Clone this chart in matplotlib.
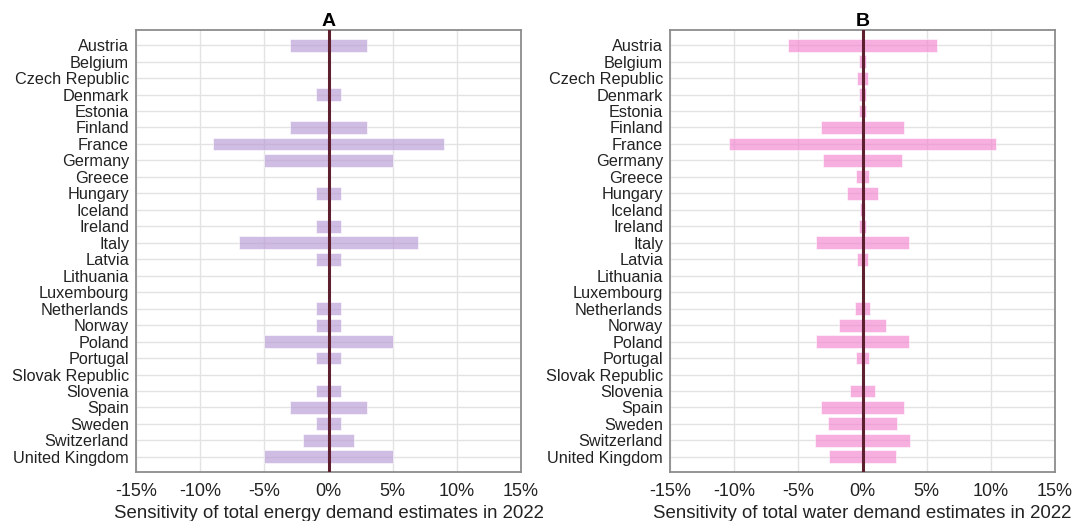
import matplotlib
matplotlib.use("Agg")
import matplotlib.pyplot as plt
import numpy as np

countries = ["Austria", "Belgium", "Czech Republic", "Denmark", "Estonia", "Finland",
             "France", "Germany", "Greece", "Hungary", "Iceland", "Ireland", "Italy",
             "Latvia", "Lithuania", "Luxembourg", "Netherlands", "Norway", "Poland",
             "Portugal", "Slovak Republic", "Slovenia", "Spain", "Sweden",
             "Switzerland", "United Kingdom"]

# sensitivity ranges (+/- percent) per country
energy_sens = [3, 0, 0, 1, 0, 3, 9, 5, 0, 1, 0, 1, 7, 1, 0, 0, 1, 1, 5, 1, 0, 1, 3, 1, 2, 5]
water_sens = [5.8, 0.28, 0.4, 0.28, 0.28, 3.2, 10.4, 3.1, 0.5, 1.2, 0.18, 0.28, 3.6, 0.4,
              0, 0, 0.6, 1.8, 3.6, 0.5, 0, 1.0, 3.2, 2.7, 3.7, 2.6]

x_ticks = [-15, -10, -5, 0, 5, 10, 15]
x_ticklabels = ["-15%", "-10%", "-5%", "0%", "5%", "10%", "15%"]

panels = [
    ("A", energy_sens, "#b89ad4", "Sensitivity of total energy demand estimates in 2022"),
    ("B", water_sens, "#f284cf", "Sensitivity of total water demand estimates in 2022"),
]

plt.rcParams["font.family"] = ["Liberation Sans", "DejaVu Sans"]

W, H = 1074, 521
fig = plt.figure(figsize=(W / 100, H / 100), dpi=100)
lefts = [136 / W, 670 / W]
width = 385 / W
bottom = 1 - 472 / H
height = 442 / H

for left, (title, vals, color, xlabel) in zip(lefts, panels):
    ax = fig.add_axes([left, bottom, width, height])
    ax.set_axisbelow(True)
    n = len(countries)
    y = np.arange(n)
    v = np.asarray(vals, dtype=float)
    ax.barh(y, 2 * v, left=-v, height=0.78, color=color, alpha=0.65,
            edgecolor="white", linewidth=0.6, zorder=2)
    ax.axvline(0, color="#5e1f2e", linewidth=2.2, zorder=3)
    ax.set_xlim(-15, 15)
    ax.set_ylim(n - 1 + 0.92, -0.92)
    ax.set_yticks(y)
    ax.set_yticklabels(countries, fontsize=11.7, color="#222222")
    ax.set_xticks(x_ticks)
    ax.set_xticklabels(x_ticklabels, fontsize=13, color="#222222")
    ax.tick_params(axis="both", length=0)
    ax.tick_params(axis="y", pad=5)
    ax.tick_params(axis="x", pad=8)
    ax.grid(True, color="#e3e3e3", linewidth=1.0, zorder=0)
    for sp in ax.spines.values():
        sp.set_color("#8c8c8c")
        sp.set_linewidth(1.3)
    ax.set_title(title, fontsize=14, fontweight="bold", pad=3)
    lab = ax.set_xlabel(xlabel, fontsize=13.4, color="#222222")
    lab.set_verticalalignment("baseline")
    ax.xaxis.set_label_coords(0.5, (3 - (H - 472)) / 442)

fig.savefig("out.png", dpi=100)
